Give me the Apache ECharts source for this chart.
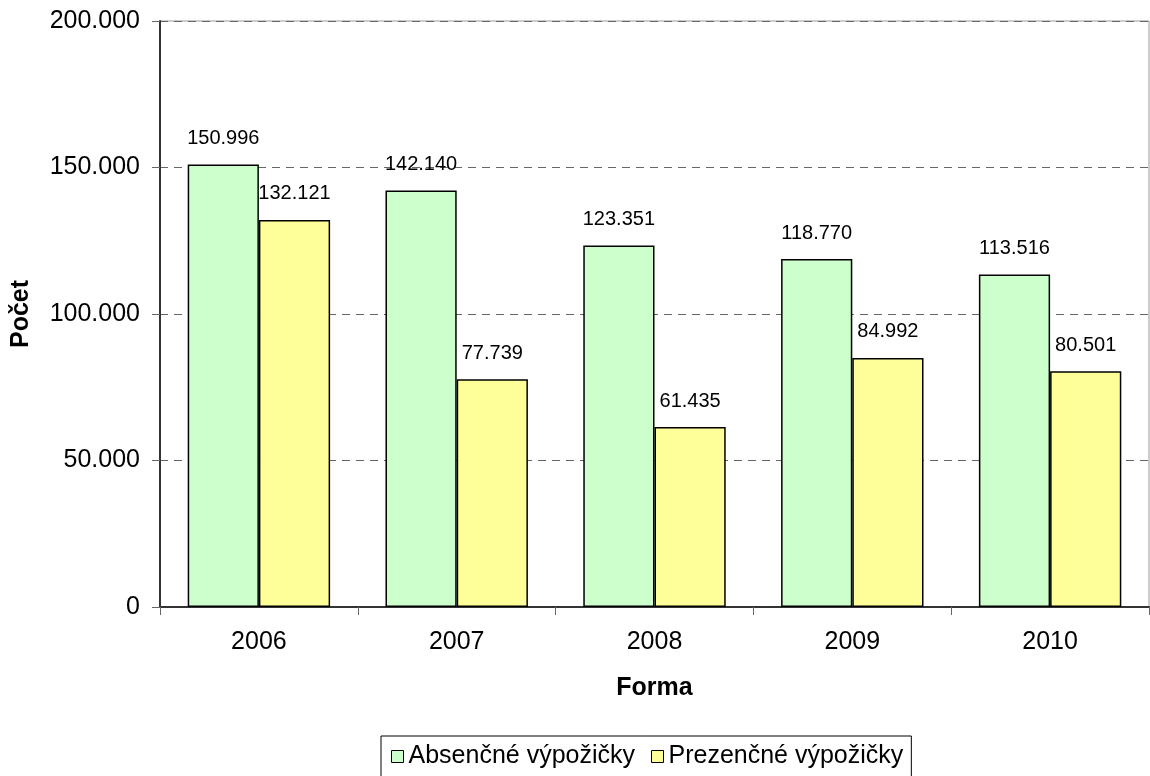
<!DOCTYPE html>
<html>
<head>
<meta charset="utf-8">
<script src="https://cdn.jsdelivr.net/npm/echarts@6/dist/echarts.min.js"></script>
<style>
  html, body { margin: 0; padding: 0; background: #fff; }
  #chart { width: 1150px; height: 776px; }
</style>
</head>
<body>
<div id="chart"></div>
<script>
const years = ['2006', '2007', '2008', '2009', '2010']
const absencne = [150996, 142140, 123351, 118770, 113516]
const prezencne = [132121, 77739, 61435, 84992, 80501]
const seriesNames = ['Absenčné výpožičky', 'Prezenčné výpožičky']

const font = '"Liberation Sans", Arial, sans-serif'
const fmt = v => String(v).replace(/\B(?=(\d{3})+(?!\d))/g, '.')

const chart = echarts.init(document.getElementById('chart'))

const label = {
  show: true,
  position: 'top',
  distance: 16,
  color: '#000',
  fontFamily: font,
  fontSize: 20,
  formatter: p => fmt(p.value)
}

chart.setOption({
  backgroundColor: '#fff',
  animation: false,
  textStyle: { fontFamily: font },
  grid: { left: 160, right: 1, top: 21, bottom: 169, show: true, borderColor: '#999', borderWidth: 1 },
  legend: {
    left: 381,
    top: 736,
    itemWidth: 12,
    itemHeight: 12,
    itemGap: 16,
    itemStyle: { borderColor: '#000', borderWidth: 1 },
    padding: [8, 8, 10, 10],
    borderColor: '#000',
    borderWidth: 1,
    textStyle: { fontSize: 25, color: '#000', fontFamily: font },
    data: seriesNames.map(n => ({ name: n, icon: 'rect' }))
  },
  xAxis: {
    type: 'category',
    data: years,
    name: 'Forma',
    nameLocation: 'middle',
    nameGap: 69,
    nameTextStyle: { fontSize: 25, fontWeight: 'bold', color: '#000' },
    axisLine: { lineStyle: { color: '#333', width: 2 } },
    axisTick: { show: true, length: 8, lineStyle: { color: '#666' } },
    axisLabel: { fontSize: 25, color: '#000', margin: 23 }
  },
  yAxis: {
    type: 'value',
    min: 0,
    max: 200000,
    interval: 50000,
    name: 'Počet',
    nameLocation: 'middle',
    nameGap: 126,
    nameTextStyle: { fontSize: 25, fontWeight: 'bold', color: '#000' },
    axisLine: { show: true, lineStyle: { color: '#333', width: 2 } },
    axisTick: { show: true, length: 8, lineStyle: { color: '#666' } },
    axisLabel: { fontSize: 25, color: '#000', margin: 20, formatter: v => fmt(v) },
    splitLine: { show: true, lineStyle: { color: '#666', type: [8, 6] } }
  },
  series: [
    {
      name: seriesNames[0],
      type: 'bar',
      data: absencne,
      barGap: '0%',
      barCategoryGap: '28%',
      itemStyle: { color: '#ccffcc', borderColor: '#000', borderWidth: 1.5 },
      label
    },
    {
      name: seriesNames[1],
      type: 'bar',
      data: prezencne,
      itemStyle: { color: '#ffff99', borderColor: '#000', borderWidth: 1.5 },
      label
    }
  ]
})
</script>
</body>
</html>
